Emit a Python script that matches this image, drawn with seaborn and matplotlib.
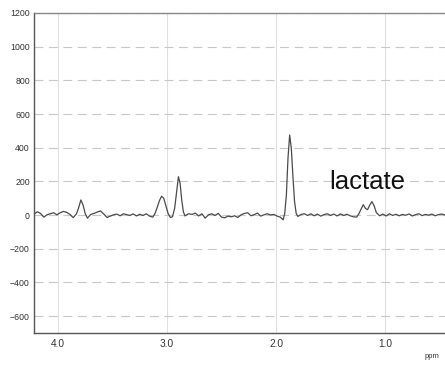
import matplotlib
matplotlib.use("Agg")
import matplotlib.pyplot as plt
import seaborn as sns
import pandas as pd

ppm = [4.22, 4.19, 4.16, 4.13, 4.10, 4.07, 4.04, 4.01, 3.98, 3.95, 3.92, 3.89, 3.86, 3.83,
       3.81, 3.79, 3.77, 3.75, 3.73, 3.70, 3.67, 3.64, 3.61, 3.58, 3.55, 3.52, 3.49, 3.46,
       3.43, 3.40, 3.37, 3.34, 3.31, 3.28, 3.25, 3.22, 3.19, 3.16, 3.13, 3.11, 3.09, 3.07,
       3.05, 3.03, 3.01, 2.99, 2.97, 2.95, 2.93, 2.91, 2.895, 2.88, 2.865, 2.85, 2.835, 2.82,
       2.80, 2.77, 2.74, 2.71, 2.68, 2.65, 2.62, 2.59, 2.56, 2.53, 2.50, 2.47, 2.44, 2.41,
       2.38, 2.35, 2.32, 2.29, 2.26, 2.23, 2.20, 2.17, 2.14, 2.11, 2.08, 2.05, 2.02, 1.99,
       1.96, 1.935, 1.92, 1.905, 1.89, 1.875, 1.86, 1.845, 1.83, 1.815, 1.80, 1.77, 1.74,
       1.71, 1.68, 1.65, 1.62, 1.59, 1.56, 1.53, 1.50, 1.47, 1.44, 1.41, 1.38, 1.35, 1.32,
       1.29, 1.26, 1.24, 1.22, 1.20, 1.18, 1.16, 1.14, 1.12, 1.10, 1.08, 1.05, 1.02, 0.99,
       0.96, 0.93, 0.90, 0.87, 0.84, 0.81, 0.78, 0.75, 0.72, 0.69, 0.66, 0.63, 0.60, 0.57,
       0.54, 0.51, 0.48, 0.45]
intensity = [5, 20, 10, -12, 2, 8, 14, 2, 14, 22, 16, 4, -15, 8,
             45, 90, 60, 8, -18, 4, 10, 18, 25, 6, -14, -6, 2, 6,
             -4, 8, 3, -2, 7, -5, 5, -2, 8, -6, -12, 10, 45, 85,
             112, 100, 55, 10, -14, -10, 40, 150, 228, 190, 90, 20, -5, 2,
             8, 4, 12, -5, 8, -18, 2, 8, -2, 10, -12, -16, -6, -10,
             -4, -14, 2, 10, 14, -4, 3, 12, -6, 2, 8, 1, 4, -6,
             -12, -28, 10, 120, 340, 475, 400, 230, 80, 10, -8, 4, 8,
             -2, 8, -4, 6, -6, 3, 8, -2, 6, -5, 7, -2, 5, -4,
             -10, -12, 8, 35, 62, 40, 32, 60, 80, 55, 15, -4, 6, -5,
             8, -2, 5, -4, 4, -1, 7, -5, 3, 8, -3, 4, 0, 6,
             -4, 3, 6, 1]

df = pd.DataFrame({"ppm": ppm, "intensity": intensity})

sns.set_style("white")
plt.rcParams["font.family"] = ["Liberation Sans", "DejaVu Sans"]

fig = plt.figure(figsize=(4.45, 3.69), dpi=100)
ax = fig.add_axes([34 / 445, 36 / 369, 411 / 445, 320 / 369])

sns.lineplot(data=df, x="ppm", y="intensity", ax=ax, color="#4a4a4a", linewidth=0.9,
             sort=False, estimator=None)

ax.set_xlim(4.22, 0.45)
ax.set_ylim(-700, 1200)
ax.set_yticks(list(range(-600, 1201, 200)))
ax.set_xticks([4.0, 3.0, 2.0, 1.0])
ax.set_xticklabels(["4.0", "3.0", "2.0", "1.0"])
ax.tick_params(axis="y", labelsize=6.3, length=2, width=0.6, color="#555555", pad=1,
               labelcolor="#333333")
ax.tick_params(axis="x", labelsize=7.3, length=0, pad=4, labelcolor="#333333")
ax.set_xlabel("")
ax.set_ylabel("")

ax.yaxis.grid(True, color="#c8c8c8", linestyle=(0, (8, 5)), linewidth=0.8)
ax.xaxis.grid(True, color="#e0e0e0", linestyle="-", linewidth=0.8)

for side in ["left", "bottom", "top"]:
    ax.spines[side].set_color("#555555")
    ax.spines[side].set_linewidth(1.0)
ax.spines["top"].set_color("#888888")
ax.spines["right"].set_visible(False)

ax.text(1.515, 195, "lactate", fontsize=18.5, color="#111111", ha="left", va="center")
fig.text(432 / 445, 1 - 356 / 369, "ppm", fontsize=5.5, color="#333333", ha="center", va="center")

fig.savefig("out.png", dpi=100, facecolor="white")
